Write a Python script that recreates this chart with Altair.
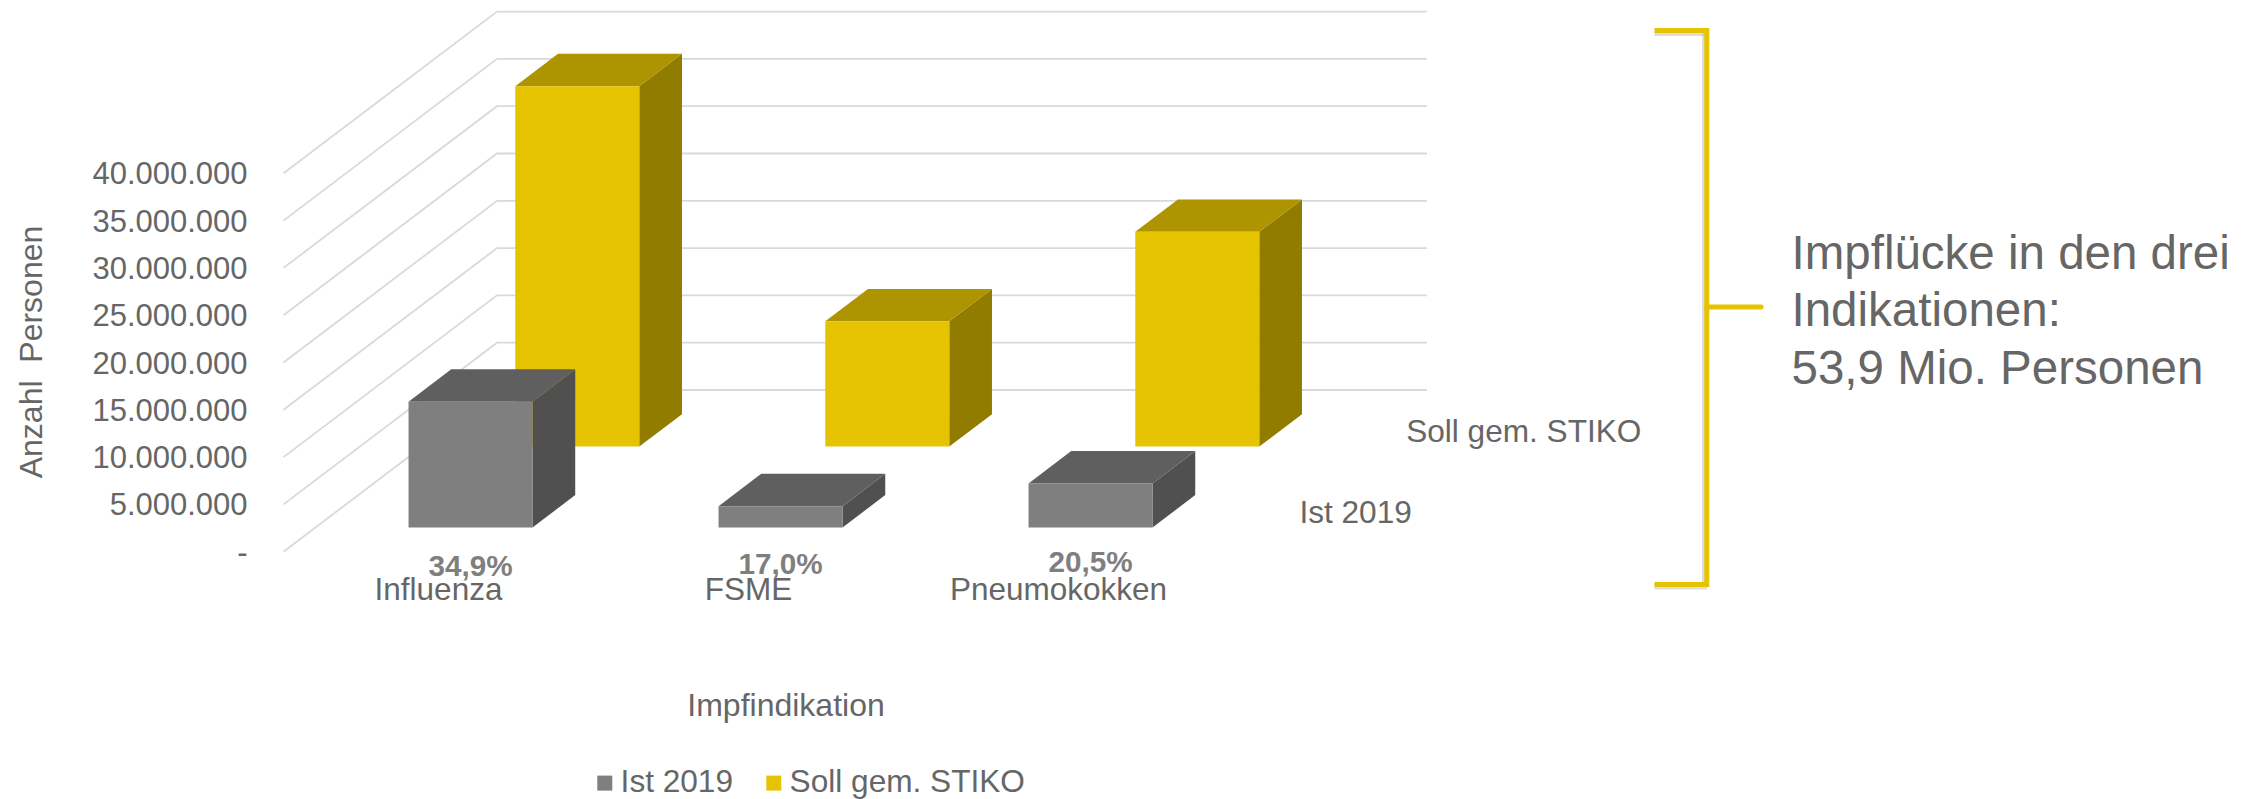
import altair as alt
import pandas as pd

# ---- data -----------------------------------------------------------------
categories = ["Influenza", "FSME", "Pneumokokken"]
ist_2019 = [13300000, 2250000, 4650000]
soll_stiko = [38100000, 13250000, 22700000]
percent_labels = ["34,9%", "17,0%", "20,5%"]
tick_values = [0, 5000000, 10000000, 15000000, 20000000, 25000000, 30000000, 35000000, 40000000]
tick_labels = ["-", "5.000.000", "10.000.000", "15.000.000", "20.000.000",
               "25.000.000", "30.000.000", "35.000.000", "40.000.000"]
series_names = ["Ist 2019", "Soll gem. STIKO"]
note_lines = ["Impflücke in den drei", "Indikationen:", "53,9 Mio. Personen"]

# ---- look -------------------------------------------------------------------
FONT = "Liberation Sans"
TEXT = "#666666"
FRONT = {"Ist 2019": "#7F7F7F", "Soll gem. STIKO": "#E6C300"}
TOP = {"Ist 2019": "#5F5F5F", "Soll gem. STIKO": "#AE9400"}
SIDE = {"Ist 2019": "#505050", "Soll gem. STIKO": "#917C00"}
GRID = "#D9D9D9"

# ---- oblique projection: category, depth row and value to the 2 chart axes ---
W, H = 2241, 791
PX0, PY0 = 275.5, 543.7     # front-left floor corner in the plot area
CW = 310.0                  # width of one category
DX, DY = 106.75, 80.85      # shift of one depth row
VPX = 47.3 / 5000000        # pixels per person
BAR_A, BAR_B = 0.3, 0.7     # bar extent inside its category / its depth row


def sx(cat, depth):
    return cat + depth * DX / CW


def sy(value, depth):
    return value + depth * DY / VPX


X_SCALE = alt.Scale(domain=[-PX0 / CW, (W - PX0) / CW], range=[0, W], nice=False, zero=False)
Y_SCALE = alt.Scale(domain=[(PY0 - H) / VPX, PY0 / VPX], range=[H, 0], nice=False, zero=False)
X = lambda f: alt.X(f, scale=X_SCALE, axis=None, title=None)
Y = lambda f: alt.Y(f, scale=Y_SCALE, axis=None, title=None, stack=None)

# ---- gridlines --------------------------------------------------------------
grid_rows = []
for v in tick_values:
    for c, d in [(0, 0), (0, 2), (3, 2)]:
        grid_rows.append({"x": sx(c, d), "y": sy(v, d), "level": v})
grid = alt.Chart(pd.DataFrame(grid_rows)).mark_line(color=GRID, strokeWidth=1.8).encode(
    x=X("x:Q"), y=Y("y:Q"), detail="level:N"
)

# ---- bars -------------------------------------------------------------------
layers = [grid]
colour_scale = alt.Scale(domain=series_names, range=[FRONT[s] for s in series_names])
legend = alt.Legend(
    orient="none", legendX=581, legendY=759, direction="horizontal", title=None,
    symbolType="square", symbolSize=225, symbolStrokeWidth=0, labelFont=FONT,
    labelFontSize=31.6, labelColor=TEXT, columnPadding=24, labelOffset=0, symbolOffset=0,
    labelLimit=400,
)

for series, values, row in [("Soll gem. STIKO", soll_stiko, 1), ("Ist 2019", ist_2019, 0)]:
    side, top, front = [], [], []
    for i, v in enumerate(values):
        da, db = row + BAR_A, row + BAR_B
        ca, cb = i + BAR_A, i + BAR_B
        side += [
            {"id": i, "x": sx(cb, da), "y": sy(v, da), "y2": sy(0, da)},
            {"id": i, "x": sx(cb, db), "y": sy(v, db), "y2": sy(0, db)},
        ]
        top += [
            {"id": i, "x": sx(ca, da), "y": sy(v, da), "y2": sy(v, da)},
            {"id": i, "x": sx(ca, db), "y": sy(v, db), "y2": sy(v, da)},
            {"id": i, "x": sx(cb, da), "y": sy(v, db), "y2": sy(v, da)},
            {"id": i, "x": sx(cb, db), "y": sy(v, db), "y2": sy(v, db)},
        ]
        front.append({"series": series, "x": sx(ca, da), "x2": sx(cb, da),
                      "y": sy(v, da), "y2": sy(0, da)})
    for rows, colours in [(side, SIDE), (top, TOP)]:
        layers.append(
            alt.Chart(pd.DataFrame(rows)).mark_area(color=colours[series], orient="vertical").encode(
                x=X("x:Q"), y=Y("y:Q"), y2="y2:Q", detail="id:N"
            )
        )
    layers.append(
        alt.Chart(pd.DataFrame(front)).mark_rect().encode(
            x=X("x:Q"), x2="x2:Q", y=Y("y:Q"), y2="y2:Q",
            color=alt.Color("series:N", scale=colour_scale, legend=legend),
        )
    )

# ---- value labels along the front edge ---------------------------------------
ticks = pd.DataFrame({"y": [sy(v, 0) for v in tick_values], "label": tick_labels})
layers.append(
    alt.Chart(ticks).mark_text(font=FONT, fontSize=31, color=TEXT, align="right", baseline="middle", dy=2).encode(
        x=alt.value(239.6), y=Y("y:Q"), text="label:N"
    )
)

# ---- category labels and percentages -----------------------------------------
cats = pd.DataFrame({"x": [sx(i + 0.5, 0) for i in range(3)], "label": categories})
layers.append(
    alt.Chart(cats).mark_text(font=FONT, fontSize=31.5, color=TEXT, align="center", baseline="alphabetic").encode(
        x=X("x:Q"), y=alt.value(592), text="label:N"
    )
)
for i, (label, base) in enumerate(zip(percent_labels, [568, 566, 564])):
    pct = pd.DataFrame({"x": [sx(i + 0.5, BAR_A)], "label": [label]})
    layers.append(
        alt.Chart(pct).mark_text(font=FONT, fontSize=29.7, fontWeight="bold", color="#7F7F7F",
                                 align="center", baseline="alphabetic").encode(
            x=X("x:Q"), y=alt.value(base), text="label:N"
        )
    )

# ---- depth axis labels --------------------------------------------------------
depth = pd.DataFrame({
    "x": [sx(3, 0.5), sx(3, 1.5)], "y": [sy(0, 0.5), sy(0, 1.5)], "label": series_names,
})
layers.append(
    alt.Chart(depth).mark_text(font=FONT, fontSize=31.6, color=TEXT, align="left", baseline="middle", dx=32.5, dy=2.5).encode(
        x=X("x:Q"), y=Y("y:Q"), text="label:N"
    )
)


# ---- titles, bracket, note ------------------------------------------------------
def note(text, x, y, **kw):
    return alt.Chart(pd.DataFrame({"a": [1]})).mark_text(
        text=text, font=FONT, color=TEXT, **kw
    ).encode(x=alt.value(x), y=alt.value(y))


def bar_h(x1, x2, y, colour, width, **kw):
    return alt.Chart(pd.DataFrame({"a": [1]})).mark_rule(color=colour, strokeWidth=width, **kw).encode(
        x=alt.value(x1), x2=alt.value(x2), y=alt.value(y)
    )


def bar_v(x, y1, y2, colour, width, **kw):
    return alt.Chart(pd.DataFrame({"a": [1]})).mark_rule(color=colour, strokeWidth=width, **kw).encode(
        x=alt.value(x), y=alt.value(y1), y2=alt.value(y2)
    )


layers += [
    note("Anzahl \u00a0Personen", 24, 344, fontSize=32, angle=270, align="center", baseline="middle"),
    note("Impfindikation", 778, 708, fontSize=32, align="center", baseline="alphabetic"),
    # soft shadow, then the bracket itself
    bar_h(1646.5, 1699, 25.5, "#BBBBBB", 5, opacity=0.5),
    bar_h(1646.5, 1699, 579, "#BBBBBB", 5, opacity=0.5),
    bar_v(1696.5, 23, 579, "#BBBBBB", 5, opacity=0.5),
    bar_h(1646.5, 1699, 22.6, "#E6C300", 5),
    bar_h(1646.5, 1699, 576.4, "#E6C300", 5),
    bar_v(1698.8, 20, 579, "#E6C300", 5),
    bar_h(1698.8, 1753, 299, "#E6C300", 5, strokeCap="round"),
    note(note_lines, 1783.5, 261, fontSize=47.5, lineHeight=57.4, align="left", baseline="alphabetic"),
]

chart = alt.layer(*layers).properties(
    width=W, height=H, padding=0, background="white",
    autosize=alt.AutoSizeParams(type="none"),
).configure_view(stroke=None)

chart.save("out.html", embed_options={"renderer": "svg", "actions": False})
